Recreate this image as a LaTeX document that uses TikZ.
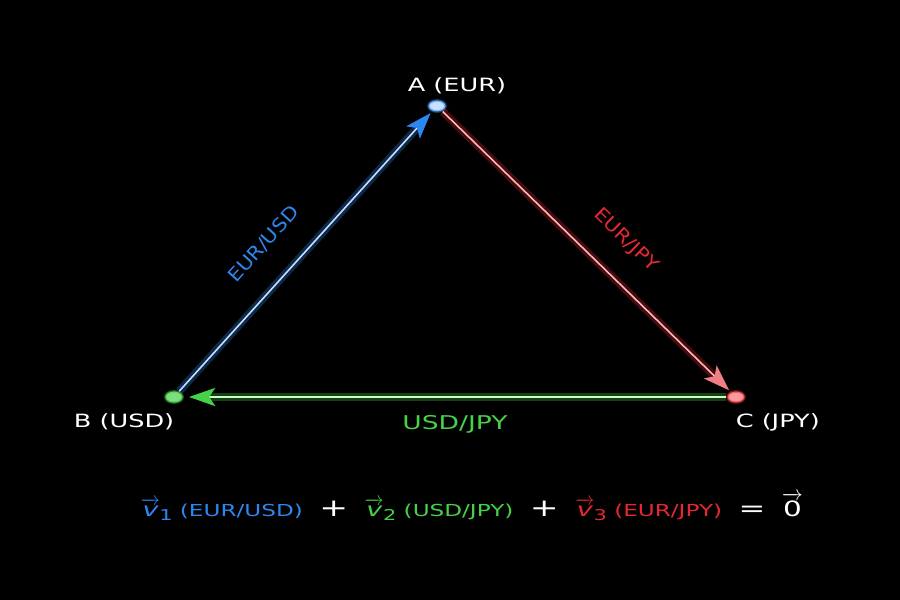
\documentclass[tikz,border=0pt]{standalone}
\usepackage{fontspec}
\usepackage{amsmath}
\usetikzlibrary{positioning,arrows.meta,shapes.geometric}
\newfontfamily\widesans[FakeStretch=1.4]{DejaVu Sans}
\newfontfamily\slopesans[FakeStretch=1.12]{DejaVu Sans}

\definecolor{eurblue}{RGB}{45,135,240}
\definecolor{eurbluelight}{RGB}{200,225,255}
\definecolor{usdgreen}{RGB}{70,210,70}
\definecolor{usdgreenlight}{RGB}{200,255,190}
\definecolor{jpyred}{RGB}{230,40,50}
\definecolor{jpyredlight}{RGB}{255,185,185}

\newcommand{\vv}[1]{{\fontsize{11}{13}\selectfont$\overrightarrow{\text{\itshape v}}$}\kern-0.5pt\raisebox{-0.5ex}{\fontsize{8.5}{10}\selectfont #1}}

\begin{document}
\begin{tikzpicture}[
  vlabel/.style={text=white, font=\widesans\fontsize{10.4}{12}\selectfont, inner sep=0pt},
  elabel/.style={font=\widesans\fontsize{9.4}{11}\selectfont, inner sep=0pt},
  slabel/.style={font=\slopesans\fontsize{10.6}{12}\selectfont, inner sep=0pt},
  dot/.style={ellipse, minimum width=0.34cm, minimum height=0.22cm, inner sep=0pt, line width=1.5pt},
  glowline/.style={line width=0.9pt, preaction={draw=#1, line width=4.5pt, opacity=0.3}},
  tip/.style={-{Stealth[length=0.52cm, width=0.36cm, inset=0.12cm, color=#1]}}
]

    % Background and frame
    \fill[black] (0,0) rectangle (18,12);
    \useasboundingbox (0,0) rectangle (18,12);

    % Currency vertices
    \node[dot, fill=eurbluelight, draw=eurblue, draw opacity=0.5] (A) at (8.74,9.88) {};
    \node[dot, fill=usdgreen!70!white, draw=usdgreen, draw opacity=0.5] (B) at (3.48,4.06) {};
    \node[dot, fill=jpyredlight!80!jpyred, draw=jpyred, draw opacity=0.5] (C) at (14.72,4.06) {};

    % Vertex labels
    \node[vlabel, above=0.1cm of A, xshift=0.4cm] (labA) {A (EUR)};
    \node[vlabel, below left=0.22cm and -0.15cm of B] (labB) {B (USD)};
    \node[vlabel, below right=0.22cm and -0.15cm of C] (labC) {C (JPY)};

    % Exchange rate edges
    \draw[glowline=eurblue, draw=eurbluelight, tip=eurblue, shorten >=1pt] (B) -- (A)
        node[slabel, text=eurblue, pos=0.44, sloped, above=0.55cm] (lab1) {EUR/USD};
    \draw[glowline=jpyred, draw=jpyredlight, tip=jpyred!60!white, shorten >=1pt] (A) -- (C)
        node[slabel, text=jpyred, pos=0.55, sloped, above=0.52cm] (lab3) {EUR/JPY};
    \draw[glowline=usdgreen, draw=usdgreenlight, tip=usdgreen, shorten >=3pt] (C) -- (B)
        node[elabel, text=usdgreen, midway, below=0.36cm, font=\widesans\fontsize{10.8}{12}\selectfont] (lab2) {USD/JPY};

    % Sum of the cycle
    \node[elabel, text=white] (sum) at (9.44,1.86) {%
        {\color{eurblue}\vv{1} (EUR/USD)}\quad{\fontsize{14}{14}\selectfont +}\quad
        {\color{usdgreen}\vv{2} (USD/JPY)}\quad{\fontsize{14}{14}\selectfont +}\quad
        {\color{jpyred}\vv{3} (EUR/JPY)}\quad{\fontsize{13}{14}\selectfont =}\quad
        {\fontsize{12}{14}\selectfont$\overrightarrow{\text{0}}$}};

\end{tikzpicture}
\end{document}
